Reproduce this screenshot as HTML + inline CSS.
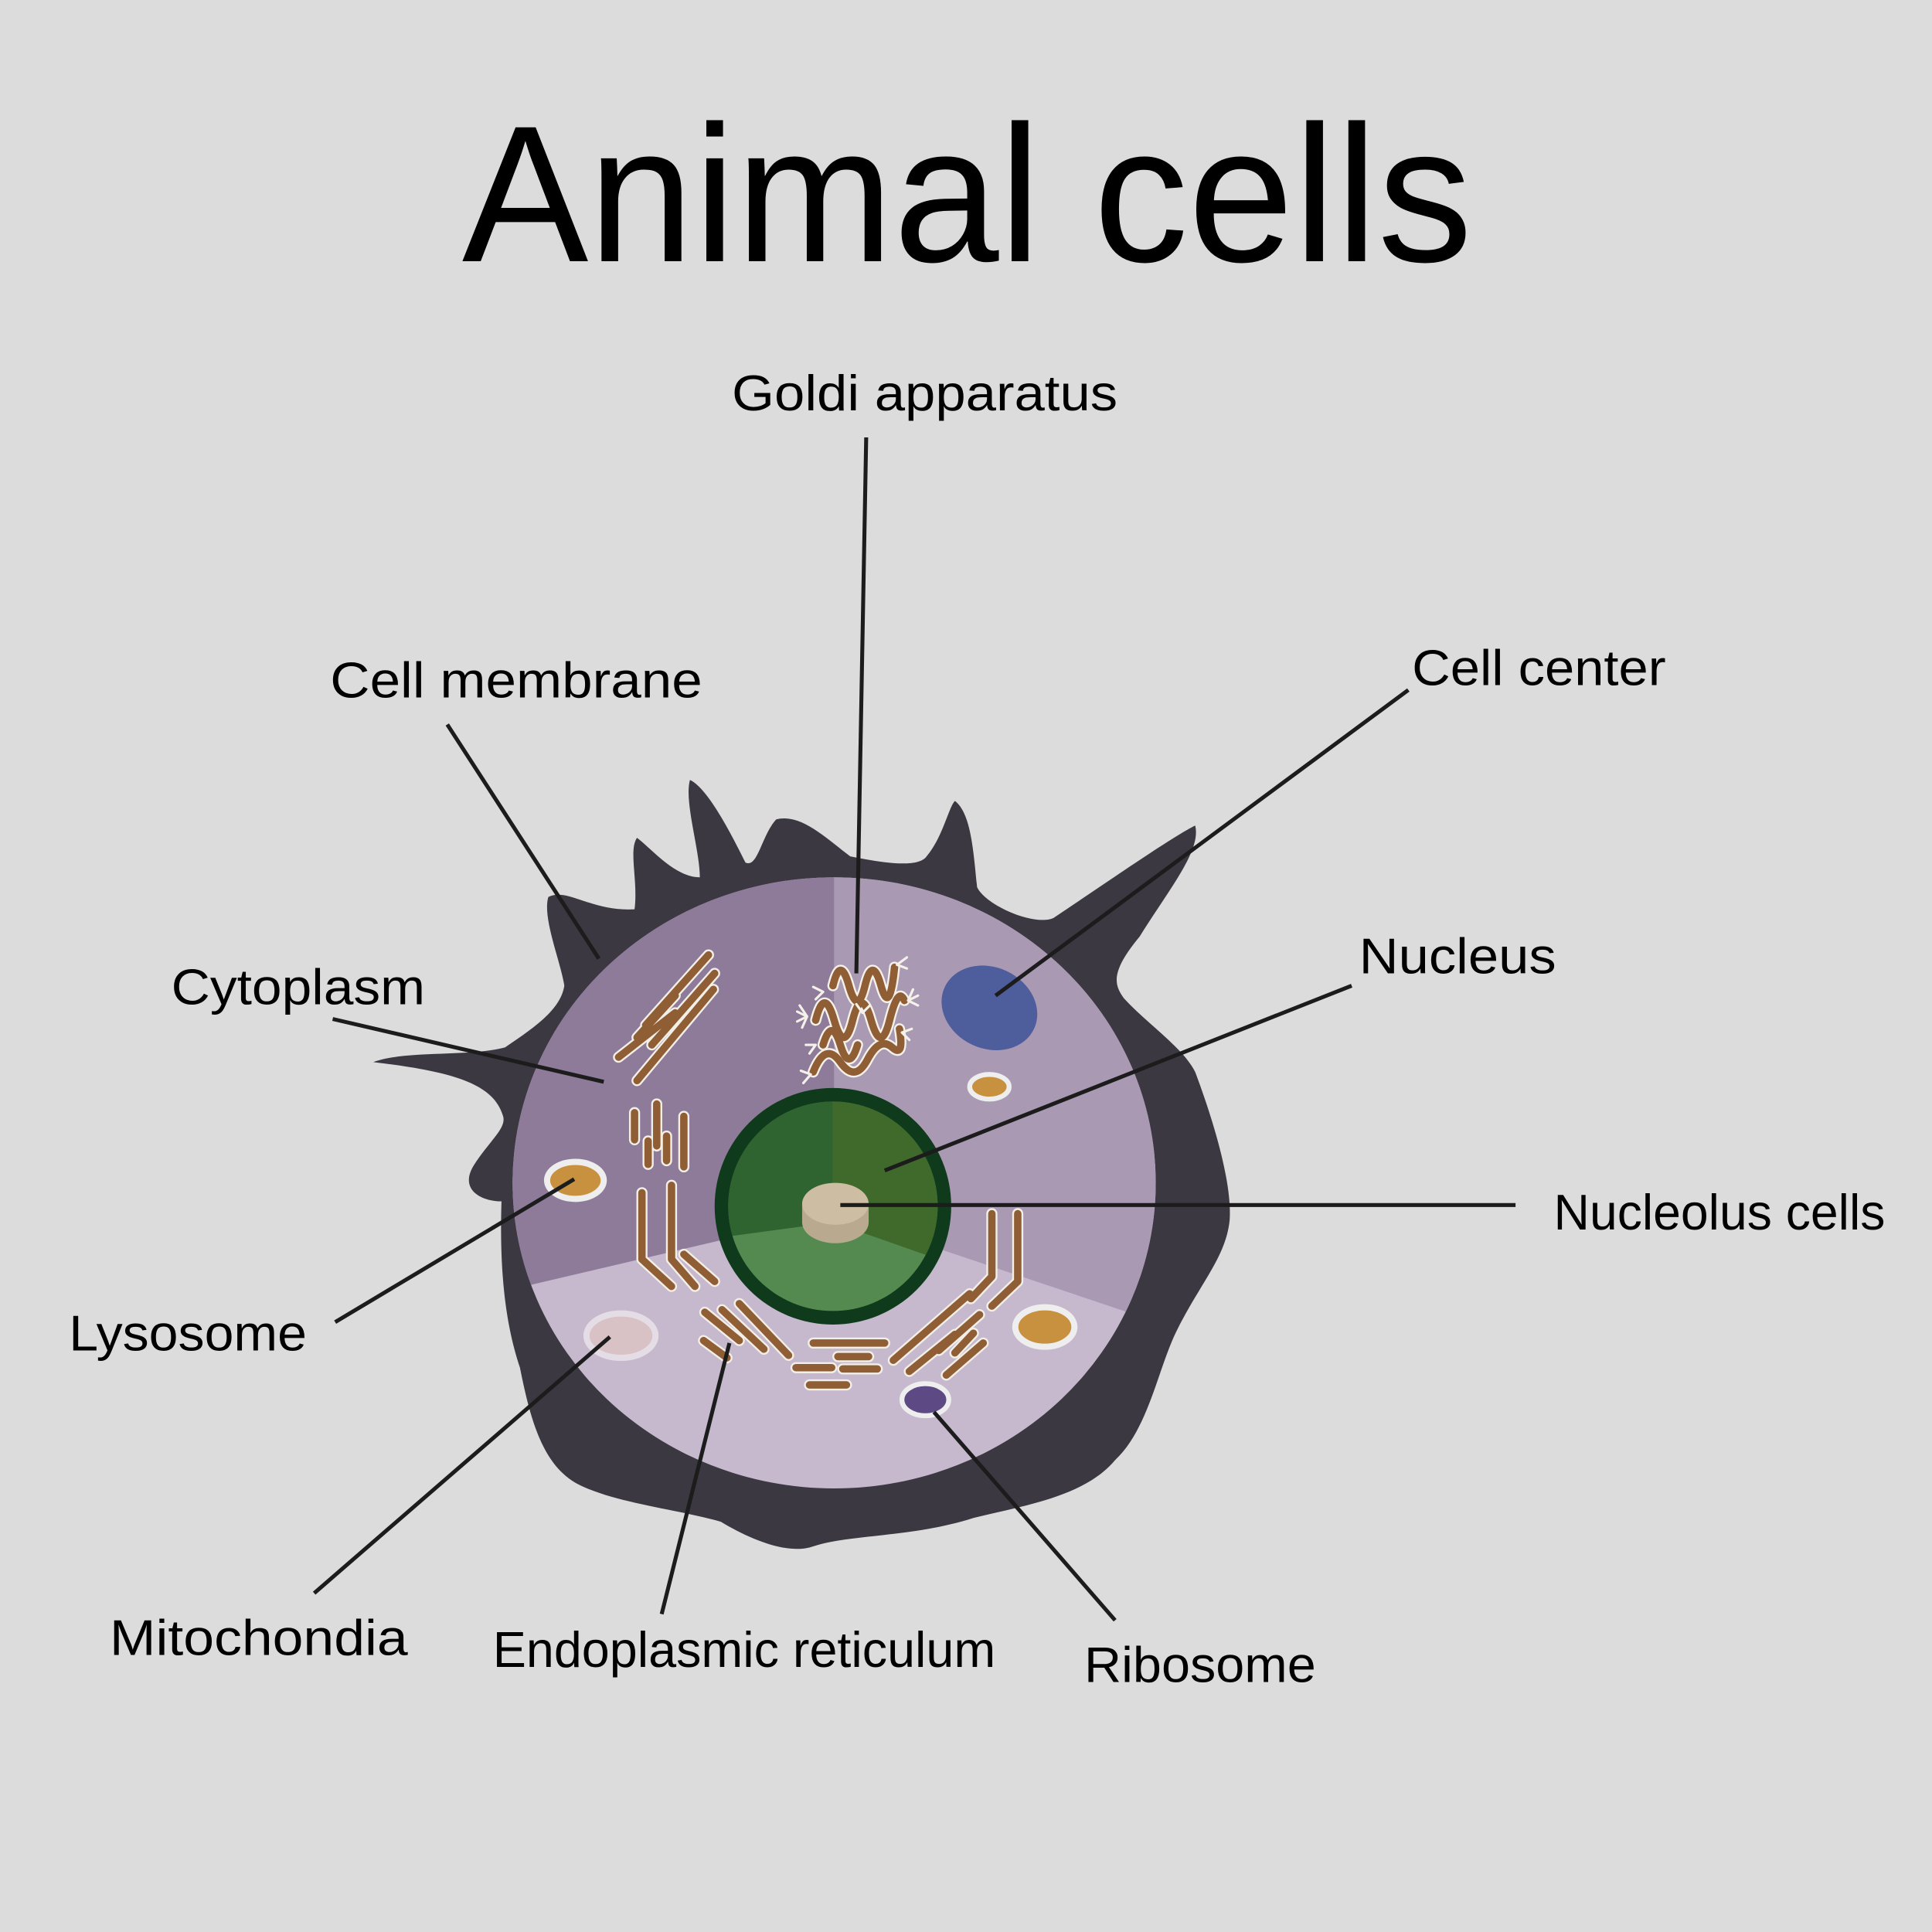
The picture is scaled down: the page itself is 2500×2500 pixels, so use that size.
<!DOCTYPE html>
<html><head><style>
html,body{margin:0;padding:0;background:#dcdcdc;}
svg{display:block;}
text{font-family:"Liberation Sans",sans-serif;fill:#000;}
</style></head><body>
<svg width="2500" height="2500" viewBox="0 0 1568 1568" xmlns="http://www.w3.org/2000/svg">
<rect width="1568" height="1568" fill="#dcdcdc"/>
<text x="375" y="212" font-size="158" textLength="820" lengthAdjust="spacingAndGlyphs">Animal cells</text>

<!-- membrane -->
<path fill="#3b3841" d="M407,975 C390,975 372,965 385,945 C398,925 412,915 408,905 C400,880 370,870 303,862 C330,852 380,858 410,850 C432,835 455,820 458,800 C455,780 440,745 445,728 C460,720 480,740 515,738 C518,715 510,690 517,680 C530,690 548,712 568,712 C568,690 555,650 560,633 C575,640 595,680 605,700 C615,705 618,678 630,665 C650,660 670,680 690,695 C715,700 745,705 752,695 C765,680 770,655 775,650 C788,660 790,690 793,720 C800,735 840,752 855,745 C900,715 950,680 970,670 C975,690 950,720 925,760 C900,790 905,800 912,810 C930,830 960,850 970,870 C985,910 1000,960 998,990 C995,1020 975,1040 955,1080 C940,1110 932,1160 905,1185 C880,1215 830,1222 790,1232 C740,1248 690,1245 660,1255 C640,1262 610,1250 585,1235 C550,1225 500,1220 470,1205 C440,1190 430,1150 422,1110 C412,1080 405,1040 407,975 Z"/>

<defs><clipPath id="cc"><ellipse cx="677" cy="960" rx="261" ry="248"/></clipPath></defs>
<g clip-path="url(#cc)">
<rect x="400" y="700" width="560" height="520" fill="#c6b9cd"/>
<path d="M677,700 L677,985 L400,1050 L400,700 Z" fill="#8e7b9a"/>
<path d="M677,700 L677,985 L960,1080 L960,700 Z" fill="#a999b3"/>
</g>

<circle cx="676" cy="979" r="96" fill="#0f3a1c"/>
<defs><clipPath id="nc"><circle cx="676" cy="979" r="85"/></clipPath></defs>
<g clip-path="url(#nc)">
<rect x="580" y="880" width="200" height="200" fill="#548a50"/>
<path d="M676,880 L676,992 L580,1005 L580,880 Z" fill="#2f6330"/>
<path d="M676,880 L676,992 L770,1025 L770,880 Z" fill="#3f6a2b"/>
</g>
<ellipse cx="678" cy="992" rx="27" ry="17" fill="#b9aa8f"/>
<rect x="651" y="978" width="54" height="14" fill="#b9aa8f"/>
<ellipse cx="678" cy="977" rx="27" ry="17" fill="#cdbea3"/>

<ellipse cx="803" cy="818" rx="40" ry="33" transform="rotate(25 803 818)" fill="#4e5d9b"/>
<ellipse cx="803" cy="882" rx="16" ry="10" fill="#c8913f" stroke="#eee" stroke-width="4"/>
<ellipse cx="467" cy="958" rx="23" ry="15" fill="#c8913f" stroke="#eee" stroke-width="5"/>
<ellipse cx="848" cy="1077" rx="24" ry="16" fill="#c8913f" stroke="#eee" stroke-width="5"/>
<ellipse cx="504" cy="1084" rx="28" ry="18" fill="#d9c2c6" stroke="#e5dde6" stroke-width="5"/>
<ellipse cx="751" cy="1136" rx="19" ry="13" fill="#5d4a85" stroke="#eee" stroke-width="4"/>

<g stroke-linecap="round" stroke-linejoin="round" fill="none">
<g stroke="#f2eee8" stroke-width="9">
<path d="M575,775 L524,832 M580,790 L529,848 M548,808 L517,842 M548,822 L502,858 M579,803 L517,877 M515,903 L515,925 M533,896 L533,930 M555,906 L555,947 M526,926 L526,945 M541,922 L541,942 M521,968 L521,1022 L545,1044 M545,962 L545,1022 L564,1044 M555,1018 L580,1040 M572,1065 L600,1088 M571,1088 L590,1102 M586,1063 L620,1095 M600,1058 L640,1100 M660,1090 L718,1090 M680,1101 L705,1101 M646,1110 L675,1110 M684,1111 L712,1111 M657,1124 L687,1124 M805,985 L805,1036 L788,1054 M826,985 L826,1040 L805,1060 M787,1050 L725,1104 M795,1067 L762,1096 M790,1082 L775,1098 M775,1083 L738,1113 M798,1090 L768,1116"/>
</g>
<g stroke="#8f5e34" stroke-width="6">
<path d="M575,775 L524,832 M580,790 L529,848 M548,808 L517,842 M548,822 L502,858 M579,803 L517,877 M515,903 L515,925 M533,896 L533,930 M555,906 L555,947 M526,926 L526,945 M541,922 L541,942 M521,968 L521,1022 L545,1044 M545,962 L545,1022 L564,1044 M555,1018 L580,1040 M572,1065 L600,1088 M571,1088 L590,1102 M586,1063 L620,1095 M600,1058 L640,1100 M660,1090 L718,1090 M680,1101 L705,1101 M646,1110 L675,1110 M684,1111 L712,1111 M657,1124 L687,1124 M805,985 L805,1036 L788,1054 M826,985 L826,1040 L805,1060 M787,1050 L725,1104 M795,1067 L762,1096 M790,1082 L775,1098 M775,1083 L738,1113 M798,1090 L768,1116"/>
</g>
</g>

<g fill="none" stroke-linecap="round">
<g stroke="#f4f0ea" stroke-width="9">
<path d="M676,800 Q682,775 689,800 T702,800 T715,800 T726,785"/>
<path d="M662,828 Q669,800 677,828 T692,828 T707,828 T722,828 T734,812"/>
<path d="M668,848 Q675,825 682,848 T696,848"/>
<path d="M660,870 Q670,845 682,862 T704,860 T724,850 T730,835"/>
</g>
<g stroke="#8f5e34" stroke-width="6">
<path d="M676,800 Q682,775 689,800 T702,800 T715,800 T726,785"/>
<path d="M662,828 Q669,800 677,828 T692,828 T707,828 T722,828 T734,812"/>
<path d="M668,848 Q675,825 682,848 T696,848"/>
<path d="M660,870 Q670,845 682,862 T704,860 T724,850 T730,835"/>
</g>
<g stroke="#f4f0ea" stroke-width="2">
<path d="M655,825 l-8,-4 M655,825 l-8,4 M655,825 l-6,-9 M655,825 l-4,9 M737,812 l8,-4 M737,812 l8,4 M737,812 l4,-9 M728,783 l8,-6 M728,783 l8,3 M668,805 l-8,-4 M668,805 l-6,6 M732,838 l8,-3 M732,838 l6,6 M658,872 l-8,-3 M658,872 l-6,7 M700,822 l-5,-7 M700,822 l6,-6 M662,848 l-8,0 M662,848 l-5,7"/>
</g>
</g>

<g stroke="#1c1c1c" stroke-width="3.2" fill="none">
<path d="M703,355 L695,790"/>
<path d="M363,588 L486,778"/>
<path d="M270,827 L490,878"/>
<path d="M1143,560 L808,808"/>
<path d="M1097,800 L718,950"/>
<path d="M682,978 L1230,978"/>
<path d="M272,1073 L466,957"/>
<path d="M255,1293 L495,1085"/>
<path d="M537,1310 L592,1090"/>
<path d="M905,1315 L758,1146"/>
</g>

<g font-size="41" lengthAdjust="spacingAndGlyphs">
<text x="594" y="333" textLength="313" lengthAdjust="spacingAndGlyphs">Goldi apparatus</text>
<text x="268" y="566" textLength="302" lengthAdjust="spacingAndGlyphs">Cell membrane</text>
<text x="1146" y="556" textLength="206" lengthAdjust="spacingAndGlyphs">Cell center</text>
<text x="139" y="815" textLength="206" lengthAdjust="spacingAndGlyphs">Cytoplasm</text>
<text x="1103" y="790" textLength="160" lengthAdjust="spacingAndGlyphs">Nucleus</text>
<text x="1261" y="998" textLength="269" lengthAdjust="spacingAndGlyphs">Nucleolus cells</text>
<text x="56" y="1096" textLength="193" lengthAdjust="spacingAndGlyphs">Lysosome</text>
<text x="89" y="1343" textLength="242" lengthAdjust="spacingAndGlyphs">Mitochondia</text>
<text x="400" y="1353" textLength="408" lengthAdjust="spacingAndGlyphs">Endoplasmic reticulum</text>
<text x="880" y="1365" textLength="188" lengthAdjust="spacingAndGlyphs">Ribosome</text>
</g>
</svg>
</body></html>
